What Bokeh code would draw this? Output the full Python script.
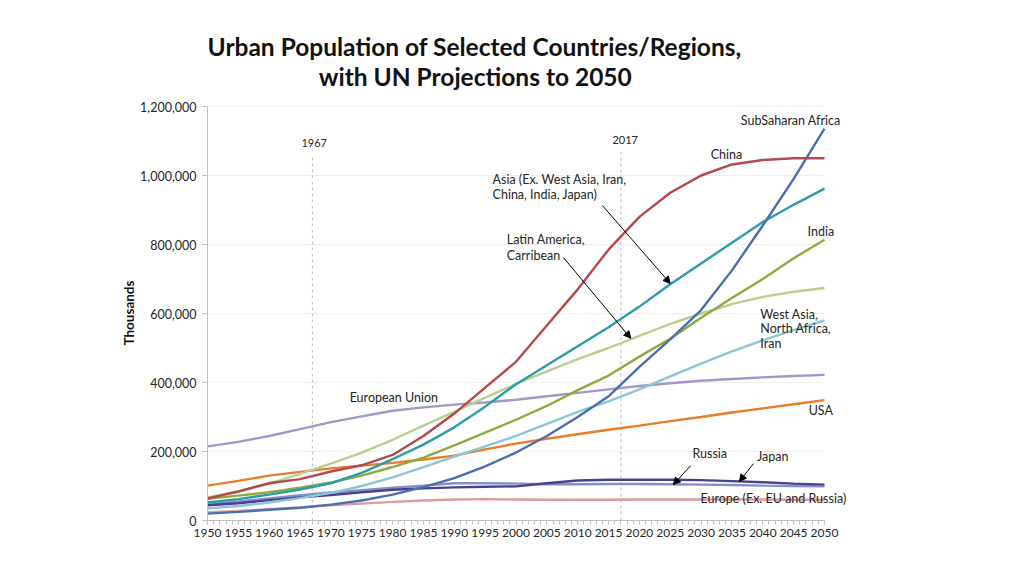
from bokeh.plotting import figure
from bokeh.models import Label, Arrow, NormalHead, SingleIntervalTicker, NumeralTickFormatter, FixedTicker, Title
from bokeh.embed import file_html
from bokeh.resources import INLINE

# ---- data (thousands) ----
years = [1950, 1955, 1960, 1965, 1970, 1975, 1980, 1985, 1990, 1995, 2000,
         2005, 2010, 2015, 2020, 2025, 2030, 2035, 2040, 2045, 2050]

europe_ex = [23000, 28000, 33000, 38000, 44000, 49000, 54000, 58000, 61000, 62000, 61000,
             60000, 60000, 60000, 61000, 61000, 61000, 61000, 61000, 60000, 60000]
russia = [46000, 55000, 64000, 73000, 81000, 88000, 95000, 101000, 108000, 108000, 107000,
          105000, 105000, 106000, 106000, 105000, 104000, 103000, 101000, 100000, 99000]
japan = [44000, 50000, 59000, 67000, 74000, 82000, 89000, 93000, 96000, 98000, 99000,
         108000, 116000, 118000, 118000, 118000, 117000, 114000, 111000, 107000, 104000]
usa = [101000, 115000, 130000, 141000, 151000, 159000, 167000, 177000, 188000, 206000, 223000,
       237000, 250000, 263000, 275000, 288000, 300000, 313000, 325000, 337000, 349000]
eu = [215000, 228000, 245000, 265000, 285000, 302000, 318000, 328000, 336000, 342000, 350000,
      360000, 370000, 380000, 390000, 398000, 405000, 410000, 415000, 419000, 422000]
wana = [35000, 42000, 52000, 65000, 80000, 100000, 125000, 155000, 185000, 215000, 245000,
        280000, 315000, 345000, 380000, 418000, 455000, 490000, 522000, 552000, 580000]
latam = [67000, 84000, 107000, 135000, 165000, 197000, 234000, 275000, 315000, 356000, 396000,
         432000, 468000, 500000, 535000, 570000, 600000, 627000, 648000, 663000, 674000]
india = [63000, 72000, 82000, 95000, 110000, 130000, 155000, 182000, 218000, 255000, 292000,
         332000, 378000, 420000, 475000, 527000, 588000, 645000, 700000, 760000, 814000]
asia_ex = [52000, 62000, 75000, 90000, 108000, 138000, 178000, 220000, 270000, 330000, 395000,
           450000, 505000, 560000, 620000, 685000, 745000, 805000, 865000, 915000, 962000]
ssa = [20000, 25000, 31000, 37000, 46000, 58000, 75000, 97000, 123000, 157000, 197000,
       245000, 300000, 360000, 445000, 525000, 610000, 725000, 855000, 990000, 1136000]
china = [64000, 84000, 108000, 120000, 142000, 160000, 190000, 245000, 310000, 385000, 460000,
         565000, 670000, 785000, 880000, 950000, 1000000, 1032000, 1045000, 1050000, 1050000]

series = [
    ("Europe (Ex. EU and Russia)", europe_ex, "#DE9B9B"),
    ("Russia", russia, "#7F92CC"),
    ("Japan", japan, "#4D3E8E"),
    ("European Union", eu, "#A197C8"),
    ("USA", usa, "#E67E2A"),
    ("West Asia, North Africa, Iran", wana, "#8CC5D6"),
    ("Latin America, Carribean", latam, "#B9CF92"),
    ("India", india, "#8FAA3E"),
    ("Asia (Ex. West Asia, Iran, China, India, Japan)", asia_ex, "#2E9BAA"),
    ("SubSaharan Africa", ssa, "#4A6EB0"),
    ("China", china, "#B5484A"),
]

y_ticks = [0, 200000, 400000, 600000, 800000, 1000000, 1200000]
marker_years = [1967, 2017]
marker_tops = [1058000, 1078000]

FONT = "Lato"
TXT = "#262626"

# frame geometry (pixels): axis 1950..2050 spans 617 px, 0..1.2M spans 414 px;
# the frame is extended right/up so that labels and title are not clipped
FRAME_W, FRAME_H = 657, 510
x_max = 1950 + 100 * FRAME_W / 617
y_max = 1200000 * FRAME_H / 414

p = figure(width=207 + FRAME_W + 10, height=10 + FRAME_H + 48,
           output_backend="svg", toolbar_location=None,
           x_range=(1950, x_max), y_range=(0, y_max),
           min_border_left=207, min_border_right=10, min_border_top=10, min_border_bottom=48)
p.outline_line_color = None
p.background_fill_color = "white"
p.border_fill_color = "white"
p.xgrid.grid_line_color = None
p.ygrid.grid_line_color = None

# horizontal grid lines within the axis extent
p.segment(x0=[1950] * len(y_ticks), y0=y_ticks, x1=[2050] * len(y_ticks), y1=y_ticks,
          line_color="#EFEFEF", line_width=1)

# axes
p.xaxis.bounds = (1950, 2050)
p.xaxis.ticker = SingleIntervalTicker(interval=5, num_minor_ticks=5)
p.xaxis.axis_line_color = "#BFBFBF"
p.xaxis.major_tick_line_color = "#BFBFBF"
p.xaxis.minor_tick_line_color = "#BFBFBF"
p.xaxis.major_tick_out = 4
p.xaxis.major_tick_in = 0
p.xaxis.minor_tick_out = 4
p.xaxis.minor_tick_in = 0
p.xaxis.major_label_text_font = FONT
p.xaxis.major_label_text_font_size = "12px"
p.xaxis.major_label_text_color = TXT
p.xaxis.major_label_standoff = 4

p.yaxis.bounds = (0, 1200000)
p.yaxis.ticker = FixedTicker(ticks=y_ticks)
p.yaxis.formatter = NumeralTickFormatter(format="0,0")
p.yaxis.axis_line_color = "#BFBFBF"
p.yaxis.major_tick_line_color = "#BFBFBF"
p.yaxis.minor_tick_line_color = None
p.yaxis.major_tick_out = 5
p.yaxis.major_tick_in = 0
p.yaxis.major_label_text_font = FONT
p.yaxis.major_label_text_font_size = "12.5px"
p.yaxis.major_label_text_color = TXT
p.yaxis.major_label_standoff = 6

# y axis title, placed along the 0..1.2M axis extent
ytitle = Title(text="Thousands", align="left", offset=175,
               text_font=FONT, text_font_size="13.5px", text_font_style="bold",
               text_color="#111111", standoff=2)
p.add_layout(ytitle, "left")

# reference lines
p.segment(x0=marker_years, y0=[0, 0], x1=marker_years, y1=marker_tops,
          line_color="#BDBDBD", line_dash="3 3", line_width=1)

for name, vals, col in series:
    p.line(years, vals, line_color=col, line_width=2.4)

def lab(x, y, text, align="left", size="12.5px", bold=False, color=TXT):
    p.add_layout(Label(x=x, y=y, text=text, text_align=align, text_baseline="middle",
                       text_font=FONT, text_font_size=size,
                       text_font_style="bold" if bold else "normal", text_color=color))

# title
lab(1993.3, 1374000, "Urban Population of Selected Countries/Regions,", "center", "24.5px", True, "#111111")
lab(1993.4, 1287000, "with UN Projections to 2050", "center", "24.5px", True, "#111111")

# marker labels
lab(1967.3, 1095000, "1967", "center", "11px")
lab(2017.7, 1104000, "2017", "center", "11px")

# series labels
lab(2052.6, 1159000, "SubSaharan Africa", "right")
lab(2034.1, 1060000, "China", "center")
lab(1996.2, 989000, "Asia (Ex. West Asia, Iran,")
lab(1996.2, 944000, "China, India, Japan)")
lab(1998.5, 815000, "Latin America,")
lab(1998.5, 769000, "Carribean")
lab(2049.4, 838000, "India", "center")
lab(2039.6, 597000, "West Asia,")
lab(2039.6, 557000, "North Africa,")
lab(2039.6, 512000, "Iran")
lab(1980.2, 357000, "European Union", "center")
lab(2049.4, 319000, "USA", "center")
lab(2031.4, 194000, "Russia", "center")
lab(2041.6, 186000, "Japan", "center")
lab(2029.9, 64000, "Europe (Ex. EU and Russia)")

# arrows
def arr(x0, y0, x1, y1):
    p.add_layout(Arrow(end=NormalHead(size=7, fill_color="black", line_color="black"),
                       x_start=x0, y_start=y0, x_end=x1, y_end=y1,
                       line_color="black", line_width=1))

arr(2014.0, 913000, 2025.0, 687000)
arr(2007.7, 762000, 2018.6, 528000)
arr(2028.3, 159000, 2025.5, 104000)
arr(2038.5, 165000, 2036.2, 113000)

open("out.html", "w").write(file_html(p, INLINE))
